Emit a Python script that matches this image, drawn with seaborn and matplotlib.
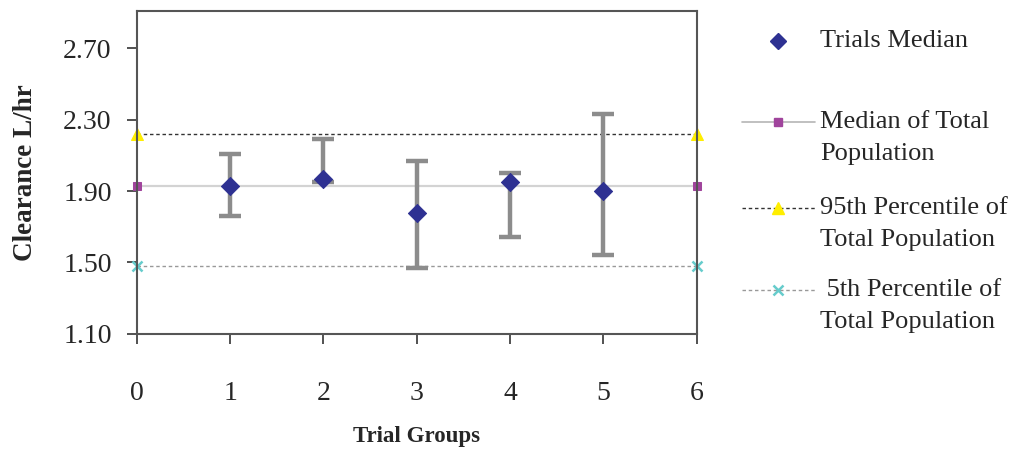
import pandas as pd
import matplotlib.pyplot as plt
import seaborn as sns
from matplotlib.lines import Line2D

# trial groups (medians with min/max bars)
groups = [1, 2, 3, 4, 5]
trial_median = [1.93, 1.97, 1.78, 1.95, 1.90]
trial_low = [1.76, 1.95, 1.47, 1.64, 1.54]
trial_high = [2.11, 2.19, 2.07, 2.00, 2.33]

# reference lines for the whole population, drawn across groups 0..6
ref_x = [0, 6]
pop_median = [1.93, 1.93]
pop_p95 = [2.22, 2.22]
pop_p5 = [1.48, 1.48]

y_ticks = [1.10, 1.50, 1.90, 2.30, 2.70]
x_ticks = [0, 1, 2, 3, 4, 5, 6]

sns.set_theme(style="white")
plt.rcParams["font.family"] = ["Liberation Serif", "DejaVu Serif"]

W, H = 1009, 453
fig = plt.figure(figsize=(W / 100, H / 100), dpi=100)
ax = fig.add_axes([0.1355, 0.263, 0.555, 0.713])

df = pd.DataFrame({"x": groups, "med": trial_median,
                   "lo": trial_low, "hi": trial_high})
ref = pd.DataFrame({"x": ref_x, "median": pop_median,
                    "p95": pop_p95, "p5": pop_p5})

median_style = dict(color="#d3d3d3", lw=1.6, marker="s", markersize=6,
                    markerfacecolor="#a0449c", markeredgecolor="#a0449c")
p95_style = dict(color="#333333", lw=1.0, linestyle=(0, (2.5, 2)),
                 marker="^", markersize=8, markerfacecolor="#ffee00",
                 markeredgecolor="#ffee00")
p5_style = dict(color="#999999", lw=1.0, linestyle=(0, (2.5, 2)),
                marker="x", markersize=7, markeredgecolor="#66cccc",
                markeredgewidth=1.8)

sns.lineplot(data=ref, x="x", y="median", ax=ax, zorder=2, clip_on=False,
             **median_style)
sns.lineplot(data=ref, x="x", y="p95", ax=ax, zorder=2, clip_on=False,
             **p95_style)
sns.lineplot(data=ref, x="x", y="p5", ax=ax, zorder=2, clip_on=False,
             **p5_style)

ax.errorbar(df["x"], df["med"],
            yerr=[df["med"] - df["lo"], df["hi"] - df["med"]],
            fmt="none", ecolor="#8c8c8c", elinewidth=3.2,
            capsize=8, capthick=3.2, zorder=3)
sns.scatterplot(data=df, x="x", y="med", ax=ax, marker="D", s=85,
                color="#2e3192", edgecolor="#2e3192", zorder=4)

ax.set_xlim(0, 6)
ax.set_ylim(1.10, 2.91)
ax.set_xticks(x_ticks)
ax.set_yticks(y_ticks)
ax.set_yticklabels([f"{v:.2f}" for v in y_ticks])
ax.tick_params(axis="both", direction="out", length=7, width=1.2,
               color="#333333", labelsize=20, bottom=True, left=True)
ax.tick_params(axis="x", pad=27)
ax.tick_params(axis="y", pad=11)
for s in ax.spines.values():
    s.set_color("#555555")
    s.set_linewidth(1.5)

ax.set_xlabel("Trial Groups", fontsize=16.5, fontweight="bold", labelpad=14)
ax.set_ylabel("Clearance L/hr", fontsize=19.5, fontweight="bold", labelpad=18)

# legend drawn by hand so each marker lines up with the first text line
legend_rows = [
    (41, None, ["Trials Median"]),
    (122, median_style, ["Median of Total", "Population"]),
    (208, p95_style, ["95th Percentile of", "Total Population"]),
    (290, p5_style, [" 5th Percentile of", "Total Population"]),
]
for y, style, lines in legend_rows:
    fy = 1 - y / H
    if style is None:
        fig.add_artist(Line2D([778 / W], [fy], linestyle="none", marker="D",
                              markersize=8.5, color="#2e3192",
                              transform=fig.transFigure))
    else:
        st = dict(style)
        if st["color"] == "#d3d3d3":
            st["color"] = "#b5b5b5"
            st["lw"] = 1.2
        line_kw = {k: v for k, v in st.items() if not k.startswith("marker")}
        mark_kw = {k: v for k, v in st.items() if k.startswith("marker")}
        fig.add_artist(Line2D([742 / W, 815 / W], [fy, fy],
                              transform=fig.transFigure, **line_kw))
        fig.add_artist(Line2D([778 / W], [fy], linestyle="none",
                              transform=fig.transFigure, **mark_kw))
    for i, txt in enumerate(lines):
        fig.text(820 / W, 1 - (y + 32 * i) / H, txt, fontsize=19,
                 va="center", ha="left")

fig.savefig("out.png", dpi=100)
